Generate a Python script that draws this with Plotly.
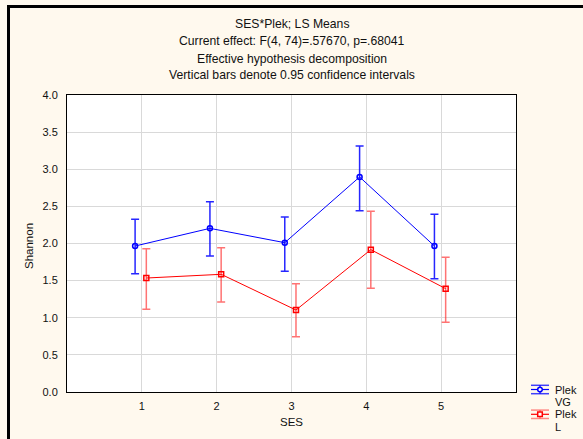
import plotly.graph_objects as go

# ---- data ----
ses = [1, 2, 3, 4, 5]
tick_vals_y = [0.0, 0.5, 1.0, 1.5, 2.0, 2.5, 3.0, 3.5, 4.0]

vg_mean = [1.966, 2.204, 2.011, 2.896, 1.966]
vg_upper = [2.326, 2.563, 2.357, 3.313, 2.393]
vg_lower = [1.594, 1.832, 1.625, 2.442, 1.526]

l_mean = [1.535, 1.585, 1.104, 1.917, 1.392]
l_upper = [1.930, 1.944, 1.459, 2.434, 1.814]
l_lower = [1.114, 1.212, 0.745, 1.397, 0.939]

series_names = ["Plek", "Plek"]
series_levels = ["VG", "L"]

title_lines = [
    "SES*Plek; LS Means",
    "Current effect: F(4, 74)=.57670, p=.68041",
    "Effective hypothesis decomposition",
    "Vertical bars denote 0.95 confidence intervals",
]

# ---- layout geometry (pixels) ----
W, H = 583, 439
L, R, T, B = 67, 516, 95, 392
VG_OFF, L_OFF = -0.09, 0.06
FONT = "Liberation Sans, Arial, sans-serif"
CREAM = "#FFF9EE"
BLUE = "#0000FF"
RED = "#FF0000"


def px_x(p):
    return (p - L) / (R - L)


def px_y(p):
    return (B - p) / (B - T)


fig = go.Figure()

fig.add_trace(go.Scatter(
    x=[s + VG_OFF for s in ses], y=vg_mean, name="Plek VG",
    mode="lines+markers",
    line=dict(color=BLUE, width=1),
    marker=dict(symbol="circle-open", size=5, color=BLUE, line=dict(width=1.5)),
    error_y=dict(type="data", symmetric=False,
                 array=[u - m for u, m in zip(vg_upper, vg_mean)],
                 arrayminus=[m - lo for m, lo in zip(vg_mean, vg_lower)],
                 color="rgba(0,0,255,0.85)", thickness=1.5, width=4),
))
fig.add_trace(go.Scatter(
    x=[s + L_OFF for s in ses], y=l_mean, name="Plek L",
    mode="lines+markers",
    line=dict(color=RED, width=1),
    marker=dict(symbol="square-open", size=5, color=RED, line=dict(width=1.5)),
    error_y=dict(type="data", symmetric=False,
                 array=[u - m for u, m in zip(l_upper, l_mean)],
                 arrayminus=[m - lo for m, lo in zip(l_mean, l_lower)],
                 color="rgba(255,40,40,0.65)", thickness=1.5, width=4),
))

annotations = []
title_y = [24, 41.5, 58.5, 75]
for txt, yy in zip(title_lines, title_y):
    annotations.append(dict(text=txt, x=px_x(292), y=px_y(yy), xref="paper", yref="paper",
                            xanchor="center", yanchor="middle", showarrow=False,
                            font=dict(family=FONT, size=12.2, color="#111111")))
annotations.append(dict(text="Shannon", x=px_x(29), y=px_y(246), xref="paper", yref="paper",
                        textangle=-90, xanchor="center", yanchor="middle", showarrow=False,
                        font=dict(family=FONT, size=11.5, color="#111111")))
annotations.append(dict(text="SES", x=px_x(291), y=px_y(422), xref="paper", yref="paper",
                        xanchor="center", yanchor="middle", showarrow=False,
                        font=dict(family=FONT, size=11.5, color="#111111")))

shapes = [
    # black frame at left and top of the picture
    dict(type="line", xref="paper", yref="paper", x0=px_x(8.5), x1=px_x(700),
         y0=px_y(6.5), y1=px_y(6.5), line=dict(color="black", width=3)),
    dict(type="line", xref="paper", yref="paper", x0=px_x(8.5), x1=px_x(8.5),
         y0=px_y(5), y1=px_y(500), line=dict(color="black", width=3)),
]

# ---- hand-built legend (symbol with error bar, two-line labels) ----
legend_items = [
    (BLUE, "rgba(0,0,255,0.75)", "circle", 389.5, series_names[0], series_levels[0]),
    (RED, "rgba(255,60,60,0.6)", "square", 414.3, series_names[1], series_levels[1]),
]
for col, capcol, sym, yc, name, lvl in legend_items:
    x0, x1, xm = 531, 549, 540
    for dy in (-4.2, 4.2):
        shapes.append(dict(type="line", xref="paper", yref="paper",
                           x0=px_x(x0), x1=px_x(x1), y0=px_y(yc + dy), y1=px_y(yc + dy),
                           line=dict(color=capcol, width=1.5)))
    shapes.append(dict(type="line", xref="paper", yref="paper",
                       x0=px_x(x0), x1=px_x(x1), y0=px_y(yc), y1=px_y(yc),
                       line=dict(color=col, width=1.2)))
    shapes.append(dict(type="line", xref="paper", yref="paper",
                       x0=px_x(xm), x1=px_x(xm), y0=px_y(yc - 4.2), y1=px_y(yc + 4.2),
                       line=dict(color=capcol, width=1.5)))
    shapes.append(dict(type="circle" if sym == "circle" else "rect", xref="paper", yref="paper",
                       x0=px_x(xm - 2.3), x1=px_x(xm + 2.3), y0=px_y(yc - 2.3), y1=px_y(yc + 2.3),
                       line=dict(color=col, width=1.5), fillcolor="white"))
    annotations.append(dict(text=name, x=px_x(553), y=px_y(yc), xref="paper", yref="paper",
                            xanchor="left", yanchor="middle", showarrow=False,
                            font=dict(family=FONT, size=11, color="#111111")))
    annotations.append(dict(text=lvl, x=px_x(553), y=px_y(yc + 13), xref="paper", yref="paper",
                            xanchor="left", yanchor="middle", showarrow=False,
                            font=dict(family=FONT, size=11, color="#111111")))

fig.update_layout(
    width=W, height=H,
    margin=dict(l=L, r=W - R, t=T, b=H - B, pad=0, autoexpand=False),
    paper_bgcolor=CREAM, plot_bgcolor="white",
    font=dict(family=FONT, size=11, color="#111111"),
    showlegend=False,
    annotations=annotations,
    shapes=shapes,
)
fig.update_xaxes(range=[0, 6], tickvals=ses, ticktext=[str(s) for s in ses],
                 showgrid=True, gridcolor="#D9D9D9", gridwidth=1,
                 showline=True, linecolor="black", linewidth=1, mirror=True,
                 zeroline=False, ticks="", ticklabelstandoff=4,
                 tickfont=dict(family=FONT, size=11, color="#111111"))
fig.update_yaxes(range=[0, 4], tickvals=tick_vals_y, tickformat=".1f",
                 showgrid=True, gridcolor="#D9D9D9", gridwidth=1,
                 showline=True, linecolor="black", linewidth=1, mirror=True,
                 zeroline=False, ticks="", ticklabelstandoff=6,
                 tickfont=dict(family=FONT, size=11, color="#111111"))

fig.write_html("out.html", config={"displayModeBar": False},
               post_script="document.body.style.margin='0';document.body.style.overflow='hidden';")
